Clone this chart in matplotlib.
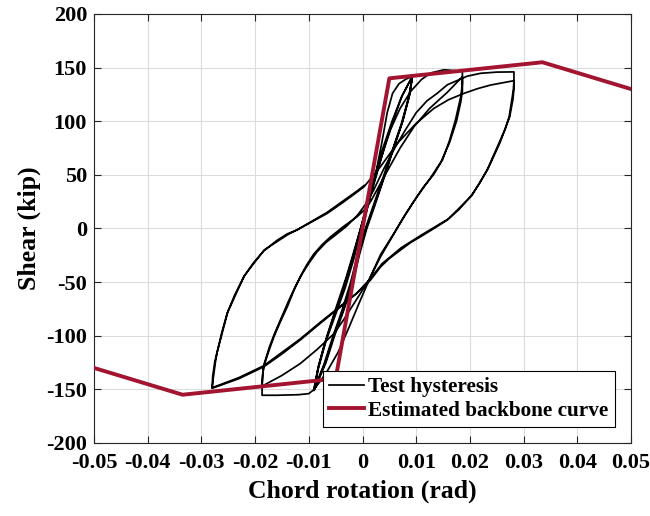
import numpy as np
import matplotlib
matplotlib.use("Agg")
import matplotlib.pyplot as plt

plt.rcParams['font.family'] = ['Liberation Serif', 'DejaVu Serif']
plt.rcParams['font.weight'] = 'bold'
plt.rcParams['axes.unicode_minus'] = False

# backbone curve (rad, kip)
backbone_rot = [-0.05, -0.0335, -0.005, 0.005, 0.0335, 0.05]
backbone_shear = [-130, -155, -140, 140, 155, 130]

# test hysteresis, read branch by branch
# cycles at ~0.009 rad
b01_rot = [0.0, 0.0012, 0.0025, 0.0036, 0.0046, 0.0056, 0.0068, 0.0080, 0.0093]
b01_shear = [0, 25, 52, 80, 108, 126, 135, 139, 142]
b02_rot = [0.0093, 0.0088, 0.0075, 0.0058, 0.0042, 0.0022, 0.0008, -0.0006, -0.0018, -0.0034, -0.0052, -0.0068, -0.0090]
b02_shear = [142, 125, 100, 75, 50, 20, 0, -25, -50, -75, -100, -125, -151]
b03_rot = [-0.0090, -0.0082, -0.0068, -0.0050, -0.0032, -0.0016, -0.0002, 0.0012, 0.0026, 0.0042, 0.0058, 0.0074, 0.0093]
b03_shear = [-151, -130, -105, -80, -55, -28, 0, 25, 50, 78, 102, 124, 142]
b04_rot = [0.0093, 0.0086, 0.0072, 0.0055, 0.0038, 0.0018, 0.0004, -0.0010, -0.0022, -0.0038, -0.0056, -0.0072, -0.0091]
b04_shear = [142, 122, 97, 72, 47, 18, -2, -26, -50, -76, -102, -127, -151]
b05_rot = [-0.0091, -0.0084, -0.0072, -0.0055, -0.0037, -0.0020, -0.0005, 0.0008, 0.0022, 0.0038, 0.0055, 0.0072, 0.0093]
b05_shear = [-151, -133, -110, -84, -58, -30, -3, 22, 47, 75, 100, 122, 142]
b06_rot = [0.0093, 0.0087, 0.0074, 0.0057, 0.0040, 0.0020, 0.0006, -0.0008, -0.0020, -0.0036, -0.0054, -0.0070, -0.0090]
b06_shear = [142, 124, 99, 74, 48, 19, -1, -26, -50, -76, -101, -126, -150]
# cycles at ~0.0185 rad
b07_rot = [-0.0090, -0.0082, -0.0066, -0.0048, -0.0030, -0.0014, 0.0002, 0.0018, 0.0035, 0.0052,
           0.0070, 0.0090, 0.0110, 0.0127, 0.0152, 0.0186]
b07_shear = [-150, -128, -100, -72, -45, -18, 10, 38, 66, 92, 112, 128, 139, 145, 148, 146.5]
b08_rot = [0.0186, 0.0186, 0.0183, 0.0178, 0.0173, 0.0162, 0.0149, 0.0132, 0.0114, 0.0095, 0.0077,
           0.0055, 0.0034, 0.0015, -0.0005, -0.0025, -0.0045, -0.0068, -0.0090, -0.0100, -0.0120,
           -0.0160, -0.0187, -0.0187]
b08_shear = [146.5, 135, 123, 112, 101, 82, 64, 50, 39, 25, 11, -8, -26, -45, -68, -92, -115, -135,
             -150, -154, -155, -155.5, -155.5, -147]
b09_rot = [-0.0187, -0.0186, -0.0184, -0.0175, -0.0165, -0.0153, -0.0140, -0.0128, -0.0116, -0.0104,
           -0.0091, -0.0075, -0.0060, -0.0035, -0.0010, 0.0005, 0.0015, 0.0040, 0.0070, 0.0096,
           0.0125, 0.0158, 0.0186]
b09_shear = [-147, -138, -129, -115, -101, -87, -73, -58, -45, -34, -24, -15, -8, 2, 11, 18, 25, 48,
             75, 95, 112, 127, 141.5]
b10_rot = [0.0186, 0.0186, 0.0183, 0.0175, 0.0162, 0.0146, 0.0125, 0.0102, 0.0080, 0.0058, 0.0034,
           0.0012, -0.0016, -0.0035, -0.0053, -0.0085, -0.0116, -0.0150, -0.0187]
b10_shear = [141.5, 128, 118, 100, 80, 62, 46, 30, 13, -5, -24, -48, -70, -85, -98, -113, -126,
             -137, -147]
# cycles at ~0.028 rad
b11_rot = [-0.0187, -0.0186, -0.0183, -0.0173, -0.0163, -0.0150, -0.0138, -0.0125, -0.0112, -0.0098,
           -0.0085, -0.0068, -0.0050, -0.0030, -0.0010, 0.0005, 0.0020, 0.0040, 0.0060, 0.0080,
           0.0100, 0.0120, 0.0139, 0.0158, 0.0195, 0.0220, 0.0250, 0.0282, 0.0282]
b11_shear = [-147, -136, -126, -110, -97, -82, -68, -54, -42, -31, -22, -13, -6, 2, 12, 22, 35, 56,
             75, 92, 108, 119, 126, 134, 142, 144.7, 145.8, 146, 138]
b12_rot = [0.0282, 0.0281, 0.0279, 0.0273, 0.0265, 0.0254, 0.0243, 0.0232, 0.0218, 0.0201, 0.0180,
           0.0158, 0.0133, 0.0108, 0.0090, 0.0071, 0.0050, 0.0034, 0.0015, -0.0012, -0.0041,
           -0.0080, -0.0116, -0.0150, -0.0184, -0.0230, -0.0280]
b12_shear = [138, 130, 123, 104, 92, 79.5, 67, 54.5, 42, 29.6, 18, 7.9, 0, -7.7, -13, -20, -28,
             -35.6, -48, -61, -73, -89, -104, -117, -129, -140, -149]
b13_rot = [-0.0280, -0.0278, -0.0274, -0.0271, -0.0262, -0.0252, -0.0238, -0.0221, -0.0203, -0.0184,
           -0.0159, -0.0140, -0.0122, -0.0095, -0.0066, -0.0040, -0.0010, 0.0003, 0.0034, 0.0065,
           0.0100, 0.0133, 0.0160, 0.0189, 0.0215, 0.0239, 0.0282]
b13_shear = [-149, -140, -125, -116, -97, -79, -62, -45, -32, -21, -11, -5, -1.4, 6, 14, 23, 34, 39,
             58, 79.5, 98, 112, 120, 126, 130.5, 133.8, 137.8]
b14_rot = [0.0282, 0.0282, 0.0280, 0.0274, 0.0256, 0.0234, 0.0204, 0.0160, 0.0110, 0.0072, 0.0036,
           0.0016, -0.0010, -0.0040, -0.0080, -0.0116, -0.0184, -0.0230, -0.0280]
b14_shear = [137.8, 130, 120, 104, 80, 56, 31, 9, -6, -18, -33, -46, -60, -72, -88, -103, -128,
             -139, -148.5]
b15_rot = [-0.0280, -0.0279, -0.0275, -0.0270, -0.0251, -0.0220, -0.0183, -0.0140, -0.0121, -0.0066,
           -0.0010, 0.0003]
b15_shear = [-148.5, -138, -124, -114, -78, -44, -20, -6, -1, 15, 35, 40]

hyst_rot = np.concatenate([b01_rot, b02_rot, b03_rot, b04_rot, b05_rot, b06_rot, b07_rot, b08_rot,
                           b09_rot, b10_rot, b11_rot, b12_rot, b13_rot, b14_rot, b15_rot])
hyst_shear = np.concatenate([b01_shear, b02_shear, b03_shear, b04_shear, b05_shear, b06_shear,
                             b07_shear, b08_shear, b09_shear, b10_shear, b11_shear, b12_shear,
                             b13_shear, b14_shear, b15_shear])

xticks = [-0.05, -0.04, -0.03, -0.02, -0.01, 0, 0.01, 0.02, 0.03, 0.04, 0.05]
xtick_labels = ['-0.05', '-0.04', '-0.03', '-0.02', '-0.01', '0', '0.01', '0.02', '0.03', '0.04', '0.05']
yticks = [-200, -150, -100, -50, 0, 50, 100, 150, 200]

fig = plt.figure(figsize=(6.5, 5.16), dpi=100)
ax = fig.add_axes([0.1446, 0.1415, 0.8262, 0.8314])

ax.plot(hyst_rot, hyst_shear, color='black', linewidth=1.25, solid_joinstyle='round',
        label='Test hysteresis', zorder=2)
ax.plot(backbone_rot, backbone_shear, color='#A2142F', linewidth=2.8,
        label='Estimated backbone curve', zorder=3)

ax.set_xlim(-0.05, 0.05)
ax.set_ylim(-200, 200)
ax.set_xticks(xticks)
ax.set_xticklabels(xtick_labels)
ax.set_yticks(yticks)
ax.tick_params(direction='in', top=True, right=True, length=5, width=0.8,
               color='#262626', labelsize=16)
ax.tick_params(axis='x', pad=7)
ax.tick_params(axis='y', pad=5)
ax.grid(True, color='#dcdcdc', linewidth=0.8, zorder=0)
ax.set_axisbelow(True)
for s in ax.spines.values():
    s.set_color('#262626')
    s.set_linewidth(0.8)

ax.set_xlabel('Chord rotation (rad)', fontsize=18.5, fontweight='bold', labelpad=5)
ax.set_ylabel('Shear (kip)', fontsize=18.5, fontweight='bold', labelpad=4)

leg = ax.legend(loc='lower right', fontsize=15.3, frameon=True, fancybox=False,
                edgecolor='black', framealpha=1, borderaxespad=0.75,
                handlelength=1.65, handletextpad=0.2, labelspacing=0.15, borderpad=0.3)
leg.get_frame().set_linewidth(0.8)

fig.savefig('out.png', dpi=100)
